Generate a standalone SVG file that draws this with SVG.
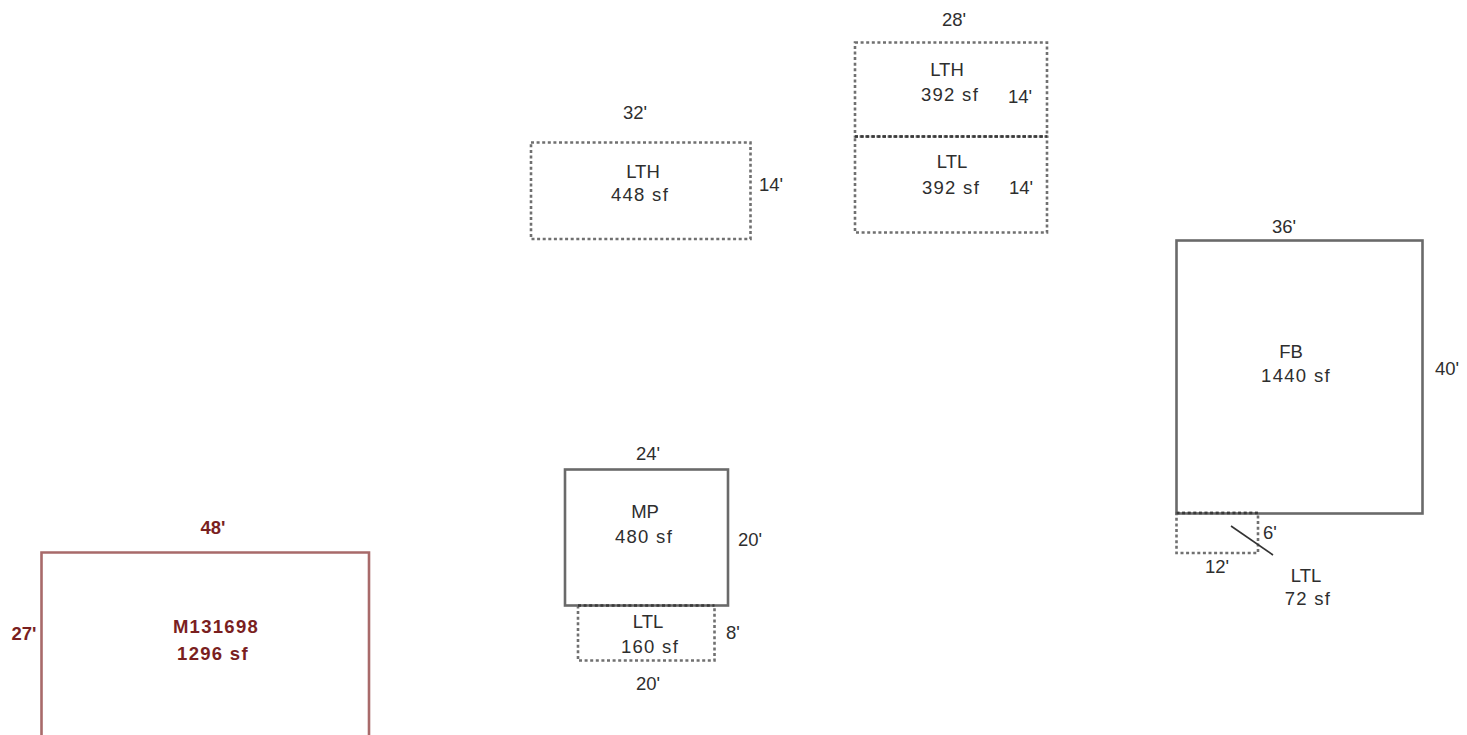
<svg xmlns="http://www.w3.org/2000/svg" width="1467" height="735" viewBox="0 0 1467 735">
<style>
text{font-family:"Liberation Sans",Arial,sans-serif;font-size:18.500px;fill:#2e2e2e;text-anchor:middle}
text.a{letter-spacing:1.300px}
.s{fill:none;stroke:#6a6a6a;stroke-width:2.600}
.d{fill:none;stroke:#707070;stroke-width:2.600;stroke-dasharray:3 2.600}
.k{fill:none;stroke:#3a3a3a;stroke-width:2.600;stroke-dasharray:3 2.600}
.m{fill:none;stroke:#a86a6a;stroke-width:2.600}
.r text{fill:#7a1f1f;font-weight:bold}
</style>
<rect width="1467" height="735" fill="#fff"/>
<g id="M131698" class="r">
<path class="m" d="M41.500 735V552.500H369V735"/>
<text x="213" y="534">48'</text>
<text x="24" y="640">27'</text>
<text class="a" x="216" y="633">M131698</text>
<text class="a" x="213" y="660">1296 sf</text>
</g>
<g id="LTH-448">
<rect class="d" x="531" y="142.500" width="219.500" height="96.500"/>
<text x="635" y="119">32'</text>
<text x="643" y="178">LTH</text>
<text class="a" x="640" y="201">448 sf</text>
<text x="771" y="191">14'</text>
</g>
<g id="LTH-392">
<rect class="d" x="855" y="42.500" width="192" height="94"/>
<text x="954" y="26">28'</text>
<text x="947" y="76">LTH</text>
<text class="a" x="950" y="101">392 sf</text>
<text x="1020" y="103">14'</text>
</g>
<g id="LTL-392">
<rect class="d" x="855" y="136.500" width="192" height="96"/>
<path class="k" d="M855 136.500H1047"/>
<text x="952" y="168">LTL</text>
<text class="a" x="951" y="194">392 sf</text>
<text x="1021" y="194">14'</text>
</g>
<g id="FB">
<rect class="s" x="1176.500" y="240.500" width="246" height="273"/>
<text x="1284" y="233">36'</text>
<text x="1291" y="358">FB</text>
<text class="a" x="1296" y="382">1440 sf</text>
<text x="1447" y="375">40'</text>
</g>
<g id="LTL-72">
<path class="d" d="M1176.500 513H1258V553H1176.500Z"/>
<path class="k" d="M1176.500 513H1258"/>
<text x="1270" y="539">6'</text>
<text x="1217" y="573">12'</text>
<text x="1306" y="582">LTL</text>
<text class="a" x="1308" y="605">72 sf</text>
</g>
<g id="MP">
<rect class="s" x="565" y="469.500" width="163" height="136"/>
<text x="648" y="460">24'</text>
<text x="645" y="518">MP</text>
<text class="a" x="644" y="543">480 sf</text>
<text x="750" y="546">20'</text>
</g>
<g id="LTL-160">
<path class="d" d="M578 605.500V660.500H714.500V605.500"/>
<path class="k" d="M578 605.500H714.500"/>
<text x="648" y="628">LTL</text>
<text class="a" x="650" y="653">160 sf</text>
<text x="733" y="639">8'</text>
<text x="648" y="690">20'</text>
</g>
<g id="connectors">
<path d="M1231 526L1273 555" fill="none" stroke="#333" stroke-width="1.600"/>
</g>
</svg>
